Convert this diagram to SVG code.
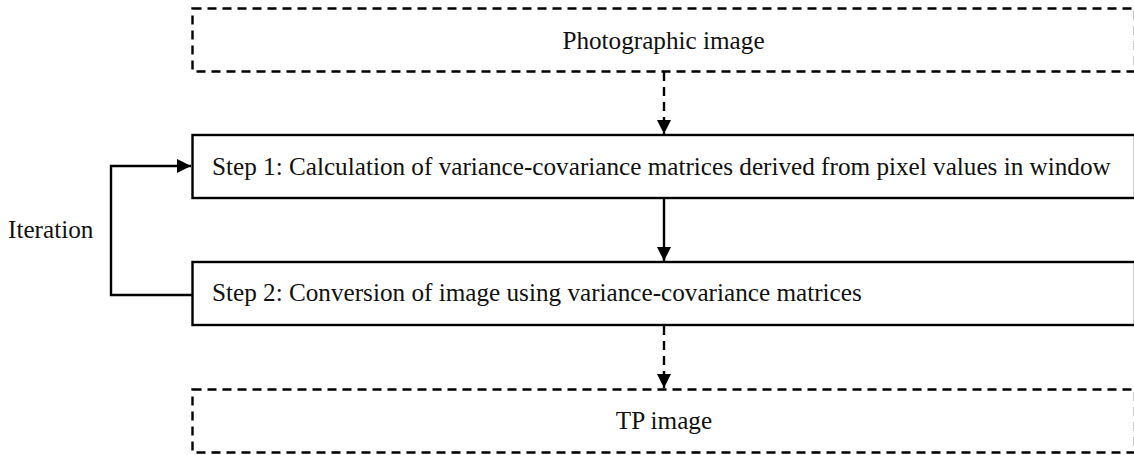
<svg xmlns="http://www.w3.org/2000/svg" width="1134" height="455" viewBox="0 0 1134 455">
  <style>
    .lbl { font-family: "Liberation Serif", "Times New Roman", serif; font-size: 25.2px; fill: #111; }
    .dashbox { fill: #fff; stroke: #000; stroke-width: 2.4; stroke-dasharray: 9 6; }
    .solidbox { fill: #fff; stroke: #000; stroke-width: 2.4; }
    .conn { fill: none; stroke: #000; stroke-width: 2.4; }
    .dashed { stroke-dasharray: 9 6; }
  </style>
  <defs>
    <marker id="arrow" markerUnits="userSpaceOnUse" markerWidth="16" markerHeight="16" refX="14" refY="7" orient="auto">
      <path d="M0,0 L14,7 L0,14 Z" fill="#000"/>
    </marker>
  </defs>

  <g id="node-photographic">
    <rect class="dashbox" x="192.5" y="8.5" width="942.5" height="63"/>
    <text class="lbl" x="663.5" y="48.5" text-anchor="middle">Photographic image</text>
  </g>

  <g id="node-step1">
    <rect class="solidbox" x="192.5" y="135" width="942.5" height="63"/>
    <text class="lbl" x="212" y="175">Step 1: Calculation of variance-covariance matrices derived from pixel values in window</text>
  </g>

  <g id="node-step2">
    <rect class="solidbox" x="192.5" y="262" width="942.5" height="63"/>
    <text class="lbl" x="212" y="300.5">Step 2: Conversion of image using variance-covariance matrices</text>
  </g>

  <g id="node-tp">
    <rect class="dashbox" x="192.5" y="389.5" width="942.5" height="63"/>
    <text class="lbl" x="664" y="429" text-anchor="middle">TP image</text>
  </g>

  <g id="label-iteration">
    <text class="lbl" x="8" y="238">Iteration</text>
  </g>

  <g id="connectors">
    <path class="conn dashed" d="M664 72 V134" marker-end="url(#arrow)"/>
    <path class="conn" d="M664 199 V261" marker-end="url(#arrow)"/>
    <path class="conn dashed" d="M664 326 V388" marker-end="url(#arrow)"/>
    <path class="conn" d="M192 295 H111 V166 H191" marker-end="url(#arrow)"/>
  </g>
</svg>
